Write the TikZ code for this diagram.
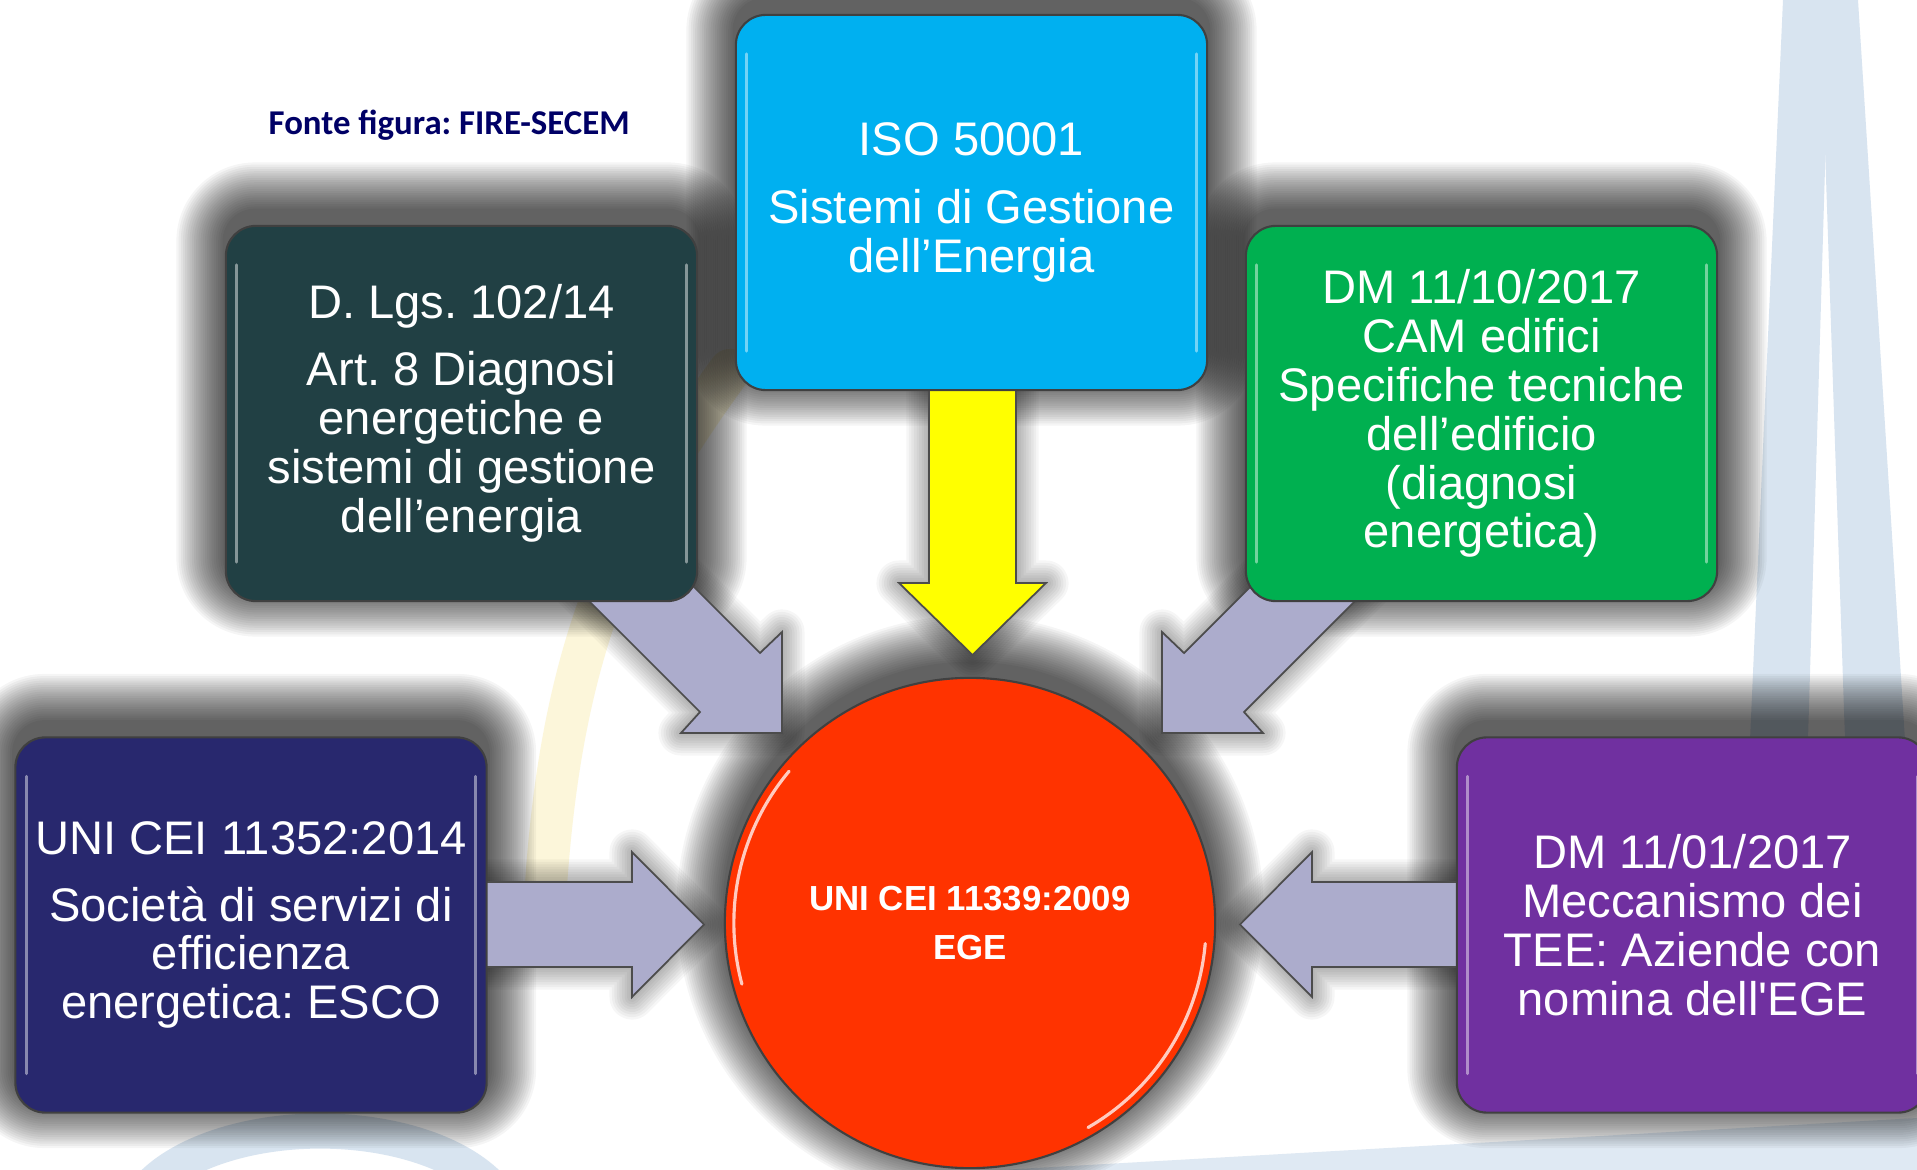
\documentclass[tikz,border=0pt]{standalone}
\usepackage{fontspec}
\setmainfont{Liberation Sans}
\newfontfamily\fontefont{Carlito}
\usetikzlibrary{calc}
\frenchspacing
\definecolor{cISO}{RGB}{0,176,240}
\definecolor{cDL}{RGB}{33,64,68}
\definecolor{cDMa}{RGB}{0,176,80}
\definecolor{cUNI}{RGB}{40,40,110}
\definecolor{cDMb}{RGB}{112,48,160}
\definecolor{cEGE}{RGB}{255,51,0}
\definecolor{cArr}{RGB}{172,172,204}
\definecolor{cYel}{RGB}{255,255,0}
\definecolor{cFonte}{RGB}{0,0,102}
\definecolor{cDecoB}{RGB}{216,228,240}
\definecolor{cDecoY}{RGB}{252,246,218}
\pgfdeclarelayer{back}
\pgfdeclarelayer{shadow}
\pgfsetlayers{back,shadow,main}
% block arrows (pixel coordinates, y downwards)
\newcommand{\arrDL}[1]{\path[#1] (620,513) -- (760,653) -- (782,632) -- (782,733) -- (681,733) -- (700,712) -- (560.5,572.5) -- cycle;}
\newcommand{\arrDR}[1]{\path[#1] (1324,513) -- (1184,653) -- (1162,632) -- (1162,733) -- (1263,733) -- (1244,712) -- (1383.5,572.5) -- cycle;}
\newcommand{\arrLH}[1]{\path[#1] (470,882) -- (632,882) -- (632,852) -- (704,924.5) -- (632,997) -- (632,967) -- (470,967) -- cycle;}
\newcommand{\arrRH}[1]{\path[#1] (1470,882) -- (1312,882) -- (1312,852) -- (1240,924.5) -- (1312,997) -- (1312,967) -- (1470,967) -- cycle;}
\newcommand{\arrYel}[1]{\path[#1] (929,380) -- (929,583) -- (899,583) -- (972.5,655) -- (1046,583) -- (1016,583) -- (1016,380) -- cycle;}
\newcommand{\boxshadow}[1]{%
  \foreach \i in {1,...,22}{%
    \pgfmathsetmacro\rc{0.3+0.022*\i}%
    \fill[black, opacity=0.04, rounded corners=\rc cm]
      ($(#1.south west)+({-2.2*\i},{2.2*\i-14})$) rectangle ($(#1.north east)+({2.2*\i},{-2.2*\i-14})$);
  }}
\newcommand{\boxgloss}[1]{%
  \draw[white, opacity=0.45, line width=0.9pt, line cap=round]
    ($(#1.north west)+(12,40)$) -- ($(#1.south west)+(12,-40)$);
  \draw[white, opacity=0.45, line width=0.9pt, line cap=round]
    ($(#1.north east)+(-12,40)$) -- ($(#1.south east)+(-12,-40)$);}
\begin{document}
\begin{tikzpicture}[x=0.01cm,y=-0.01cm,
  box/.style={draw=black!75, line width=0.6pt, rounded corners=0.3cm,
    minimum width=4.71cm, minimum height=3.75cm, inner sep=0pt,
    text=white, align=center, font=\fontsize{13.4pt}{13.9pt}\selectfont},
  blockarrow/.style={fill=cArr, draw=black!70, line width=0.5pt},
  yelarrow/.style={fill=cYel, draw=black!70, line width=0.5pt}]
\path[use as bounding box] (0,0) rectangle (1917,1170);
\clip (0,0) rectangle (1917,1170);

% ---------- background ----------
\begin{pgfonlayer}{back}
\fill[white] (0,0) rectangle (1917,1170);
\fill[cDecoB] (1783,0) -- (1830,0) -- (1808,740) -- (1750,740) -- cycle;
\fill[cDecoB] (1820,0) -- (1858,0) -- (1905,740) -- (1845,740) -- cycle;
\fill[cDecoB, opacity=0.8] (1000,1170) -- (1917,1118) -- (1917,1170) -- cycle;
\begin{scope}[x=1cm,y=1cm]
  \draw[cDecoB, line width=10pt] (1.33,-12.13) arc[start angle=170, end angle=10, x radius=1.9, y radius=1.0];
\end{scope}
\draw[cDecoY, line width=12pt, line cap=round] (730,370) .. controls (620,520) and (560,650) .. (545,900);
\end{pgfonlayer}

% ---------- arrows ----------
\arrDL{blockarrow}
\arrDR{blockarrow}
\arrLH{blockarrow}
\arrRH{blockarrow}
\arrYel{yelarrow}

% ---------- boxes ----------
\node[box, fill=cISO] (iso) at (971.5,202.5)
  {ISO 50001\\[5.4pt]Sistemi di Gestione\\dell’Energia};
\node[box, fill=cDL] (dlgs) at (461.5,413.5)
  {D. Lgs. 102/14\\[5.1pt]Art. 8 Diagnosi\\energetiche e\\sistemi di gestione\\dell’energia};
\node[box, fill=cDMa] (dma) at (1481.5,413.5)
  {DM 11/10/2017\\CAM edifici\\Specifiche tecniche\\dell’edificio\\(diagnosi\\energetica)};
\node[box, fill=cUNI] (uni) at (251,925)
  {UNI CEI 11352:2014\\[5.1pt]Società di servizi di\\efficienza\\energetica: ESCO};
\node[box, fill=cDMb] (dmb) at (1692.5,925)
  {DM 11/01/2017\\Meccanismo dei\\TEE: Aziende con\\nomina dell\textquotesingle EGE};
\node[circle, fill=cEGE, draw=black!75, line width=0.6pt, minimum size=4.9cm,
  inner sep=0pt, text=white, align=center,
  font=\fontsize{9.9pt}{13.7pt}\selectfont\bfseries] (ege) at (970,923)
  {UNI CEI 11339:2009\\EGE};

\node[anchor=base west, inner sep=0pt, text=cFonte,
  font=\fontefont\bfseries\fontsize{9.9pt}{12pt}\selectfont] (fonte) at (268,135)
  {Fonte figura: FIRE-SECEM};

% ---------- gloss ----------
\foreach \n in {iso,dlgs,dma,uni,dmb}{\boxgloss{\n}}
\begin{scope}[x=1cm,y=1cm,shift={(ege.center)}]
  \draw[white, opacity=0.75, line width=0.9pt, line cap=round] (140:2.36) arc[start angle=140, end angle=195, radius=2.36];
  \draw[white, opacity=0.75, line width=0.9pt, line cap=round] (-5:2.36) arc[start angle=-5, end angle=-60, radius=2.36];
\end{scope}

% ---------- shadows ----------
\begin{pgfonlayer}{shadow}
\foreach \n in {iso,dlgs,dma,uni,dmb}{\boxshadow{\n}}
\foreach \i in {1,...,22}{%
  \pgfmathsetmacro\rr{2.45+0.022*\i}%
  \fill[black, opacity=0.04] ($(ege.center)+(0,-14)$) circle[radius=\rr cm];
}
\foreach \w in {5,10,...,45}{%
  \pgfmathsetmacro\lw{\w*0.2845}%
  \arrDL{draw=black, draw opacity=0.035, line width=\lw pt, line join=round}
  \arrDR{draw=black, draw opacity=0.035, line width=\lw pt, line join=round}
  \arrLH{draw=black, draw opacity=0.035, line width=\lw pt, line join=round}
  \arrRH{draw=black, draw opacity=0.035, line width=\lw pt, line join=round}
  \arrYel{draw=black, draw opacity=0.035, line width=\lw pt, line join=round}
}
\end{pgfonlayer}
\end{tikzpicture}
\end{document}
